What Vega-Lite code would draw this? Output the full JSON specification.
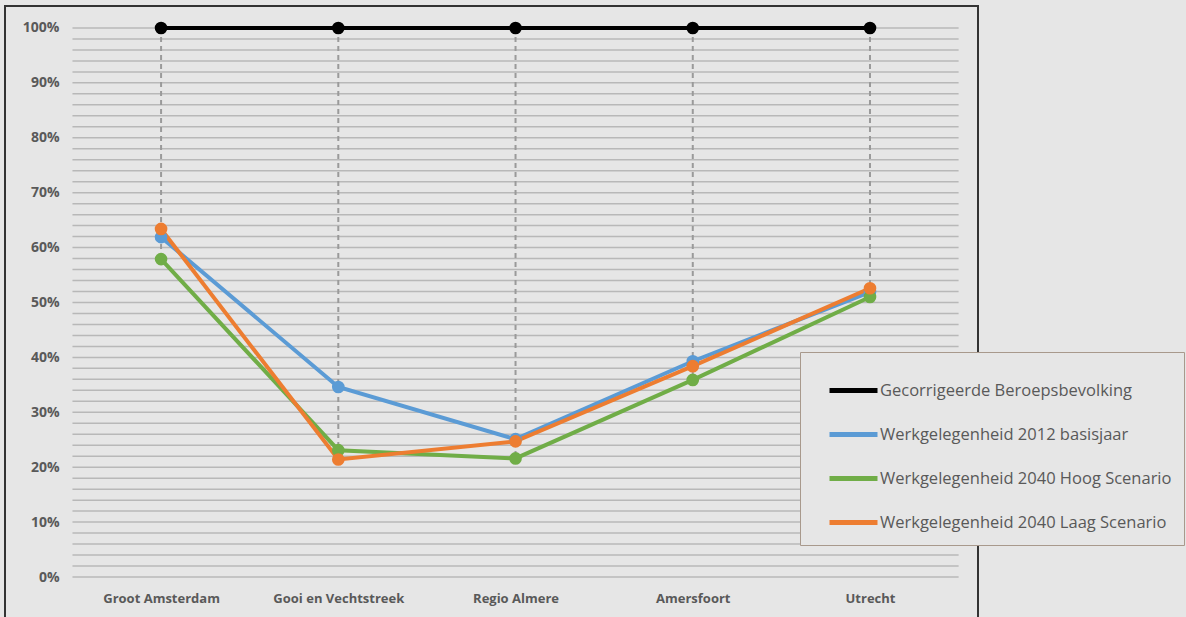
{
  "$schema": "https://vega.github.io/schema/vega-lite/v6.json",
  "width": 973,
  "height": 614,
  "padding": {"left": 5, "top": 6, "right": 208, "bottom": 0},
  "autosize": {"type": "none"},
  "background": "#e6e6e6",
  "config": {
    "view": {"stroke": "#333333", "strokeWidth": 2, "fill": "#e6e6e6"},
    "font": "Open Sans"
  },
  "datasets": {
    "grid": [
      {"v": 0}, {"v": 2}, {"v": 4}, {"v": 6}, {"v": 8}, {"v": 10}, {"v": 12}, {"v": 14}, {"v": 16}, {"v": 18},
      {"v": 20}, {"v": 22}, {"v": 24}, {"v": 26}, {"v": 28}, {"v": 30}, {"v": 32}, {"v": 34}, {"v": 36}, {"v": 38},
      {"v": 40}, {"v": 42}, {"v": 44}, {"v": 46}, {"v": 48}, {"v": 50}, {"v": 52}, {"v": 54}, {"v": 56}, {"v": 58},
      {"v": 60}, {"v": 62}, {"v": 64}, {"v": 66}, {"v": 68}, {"v": 70}, {"v": 72}, {"v": 74}, {"v": 76}, {"v": 78},
      {"v": 80}, {"v": 82}, {"v": 84}, {"v": 86}, {"v": 88}, {"v": 90}, {"v": 92}, {"v": 94}, {"v": 96}, {"v": 98},
      {"v": 100}
    ],
    "main": [
      {"regio": "Groot Amsterdam", "reeks": "Gecorrigeerde Beroepsbevolking", "waarde": 100},
      {"regio": "Gooi en Vechtstreek", "reeks": "Gecorrigeerde Beroepsbevolking", "waarde": 100},
      {"regio": "Regio Almere", "reeks": "Gecorrigeerde Beroepsbevolking", "waarde": 100},
      {"regio": "Amersfoort", "reeks": "Gecorrigeerde Beroepsbevolking", "waarde": 100},
      {"regio": "Utrecht", "reeks": "Gecorrigeerde Beroepsbevolking", "waarde": 100},
      {"regio": "Groot Amsterdam", "reeks": "Werkgelegenheid 2012 basisjaar", "waarde": 61.9},
      {"regio": "Gooi en Vechtstreek", "reeks": "Werkgelegenheid 2012 basisjaar", "waarde": 34.6},
      {"regio": "Regio Almere", "reeks": "Werkgelegenheid 2012 basisjaar", "waarde": 25.1},
      {"regio": "Amersfoort", "reeks": "Werkgelegenheid 2012 basisjaar", "waarde": 39.3},
      {"regio": "Utrecht", "reeks": "Werkgelegenheid 2012 basisjaar", "waarde": 51.9},
      {"regio": "Groot Amsterdam", "reeks": "Werkgelegenheid 2040 Hoog Scenario", "waarde": 57.9},
      {"regio": "Gooi en Vechtstreek", "reeks": "Werkgelegenheid 2040 Hoog Scenario", "waarde": 23.1},
      {"regio": "Regio Almere", "reeks": "Werkgelegenheid 2040 Hoog Scenario", "waarde": 21.6},
      {"regio": "Amersfoort", "reeks": "Werkgelegenheid 2040 Hoog Scenario", "waarde": 35.9},
      {"regio": "Utrecht", "reeks": "Werkgelegenheid 2040 Hoog Scenario", "waarde": 51.0},
      {"regio": "Groot Amsterdam", "reeks": "Werkgelegenheid 2040 Laag Scenario", "waarde": 63.4},
      {"regio": "Gooi en Vechtstreek", "reeks": "Werkgelegenheid 2040 Laag Scenario", "waarde": 21.4},
      {"regio": "Regio Almere", "reeks": "Werkgelegenheid 2040 Laag Scenario", "waarde": 24.7},
      {"regio": "Amersfoort", "reeks": "Werkgelegenheid 2040 Laag Scenario", "waarde": 38.4},
      {"regio": "Utrecht", "reeks": "Werkgelegenheid 2040 Laag Scenario", "waarde": 52.6}
    ]
  },
  "resolve": {"scale": {"x": "shared", "y": "shared"}},
  "layer": [
    {
      "data": {"name": "grid"},
      "mark": {"type": "rule", "stroke": "#b8b8b8", "strokeWidth": 1.5, "xOffset": -88.6, "x2Offset": 88.6},
      "encoding": {
        "y": {"field": "v", "type": "quantitative"},
        "x": {"datum": "Groot Amsterdam", "type": "nominal"},
        "x2": {"datum": "Utrecht"}
      }
    },
    {
      "data": {"name": "main"},
      "transform": [
        {"aggregate": [{"op": "min", "field": "waarde", "as": "lo"}, {"op": "max", "field": "waarde", "as": "hi"}], "groupby": ["regio"]}
      ],
      "mark": {"type": "rule", "stroke": "#9a9a9a", "strokeWidth": 2, "strokeDash": [5, 4]},
      "encoding": {
        "x": {"field": "regio", "type": "nominal", "sort": null},
        "y": {"field": "hi", "type": "quantitative"},
        "y2": {"field": "lo"}
      }
    },
    {
      "data": {"name": "main"},
      "mark": {"type": "line", "strokeWidth": 4},
      "encoding": {
        "x": {
          "field": "regio", "type": "nominal",
          "sort": ["Groot Amsterdam", "Gooi en Vechtstreek", "Regio Almere", "Amersfoort", "Utrecht"],
          "scale": {"type": "point", "padding": 0.745, "align": 0.591,
            "domain": ["Groot Amsterdam", "Gooi en Vechtstreek", "Regio Almere", "Amersfoort", "Utrecht"]},
          "axis": {"title": null, "orient": "bottom", "offset": -30, "domain": false, "ticks": false, "tickSize": 0, "labelPadding": 2,
            "labelAngle": 0, "labelAlign": "center", "labelBaseline": "top",
            "labelFont": "Open Sans", "labelFontSize": 13, "labelFontWeight": "bold", "labelColor": "#595959", "grid": false}
        },
        "y": {
          "field": "waarde", "type": "quantitative",
          "scale": {"domain": [-7.83, 104.0], "nice": false, "zero": false},
          "axis": {"title": null, "values": [0, 10, 20, 30, 40, 50, 60, 70, 80, 90, 100], "labelExpr": "datum.value + '%'",
            "offset": -66, "domain": false, "ticks": false, "tickSize": 0, "labelPadding": 12, "grid": false,
            "labelFont": "Open Sans", "labelFontSize": 14, "labelFontWeight": "bold", "labelColor": "#595959"}
        },
        "color": {
          "field": "reeks", "type": "nominal",
          "scale": {
            "domain": ["Gecorrigeerde Beroepsbevolking", "Werkgelegenheid 2012 basisjaar", "Werkgelegenheid 2040 Hoog Scenario", "Werkgelegenheid 2040 Laag Scenario"],
            "range": ["#000000", "#5b9bd5", "#70ad47", "#ed7d31"]
          },
          "legend": {
            "title": null, "orient": "none", "legendX": 795, "legendY": 346,
            "fillColor": "#e6e6e6", "strokeColor": "#a8998c", "padding": 12,
            "symbolType": "stroke", "symbolSize": 2304, "symbolStrokeWidth": 5, "symbolOffset": 15,
            "labelOffset": 0, "labelFont": "Open Sans", "labelFontSize": 16.5, "labelColor": "#595959",
            "rowPadding": 7, "labelLimit": 400
          }
        }
      }
    },
    {
      "data": {"name": "main"},
      "mark": {"type": "point", "filled": true, "size": 160, "opacity": 1},
      "encoding": {
        "x": {"field": "regio", "type": "nominal", "sort": ["Groot Amsterdam", "Gooi en Vechtstreek", "Regio Almere", "Amersfoort", "Utrecht"]},
        "y": {"field": "waarde", "type": "quantitative"},
        "color": {"field": "reeks", "type": "nominal"}
      }
    }
  ]
}
